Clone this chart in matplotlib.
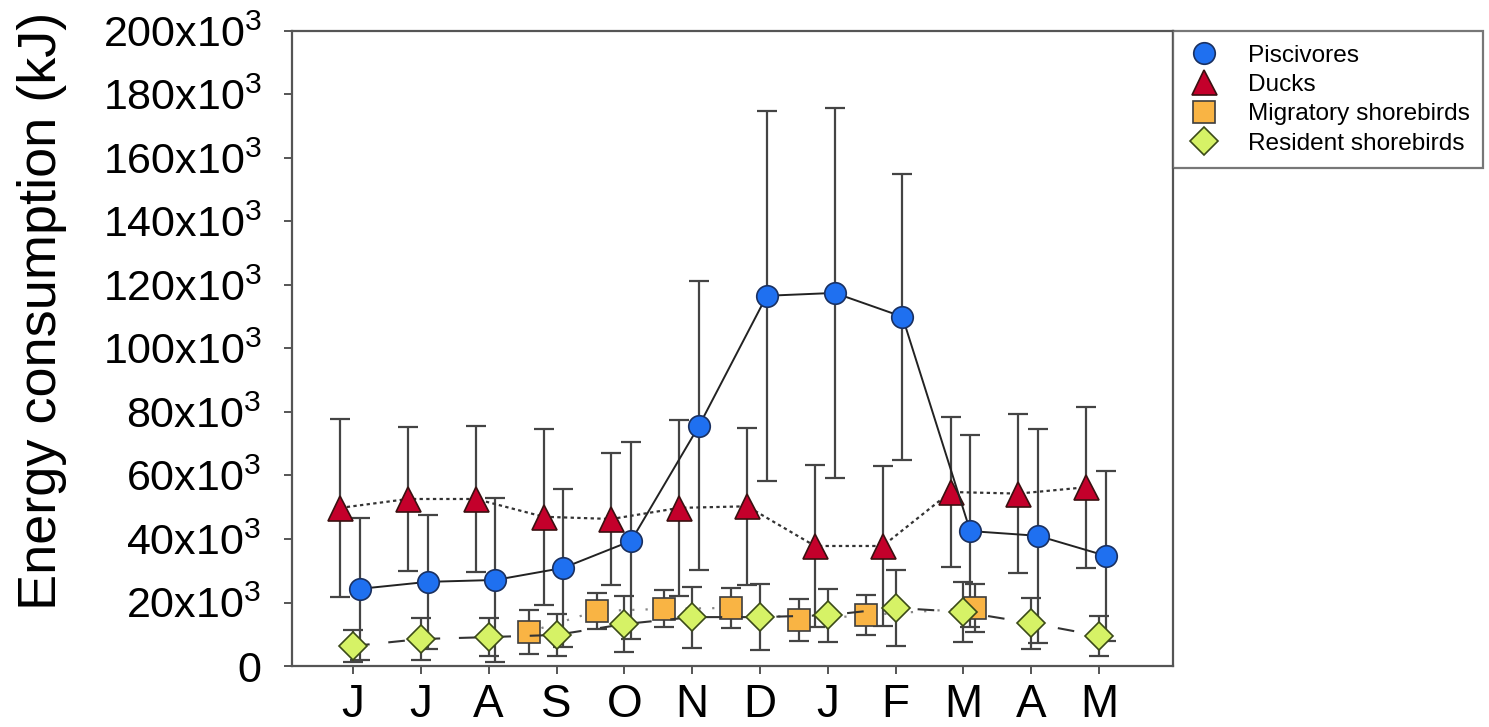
import numpy as np
import matplotlib
matplotlib.use('Agg')
import matplotlib.pyplot as plt
from matplotlib.lines import Line2D

plt.rcParams['font.family'] = ['Liberation Sans', 'DejaVu Sans']
plt.rcParams['mathtext.fontset'] = 'custom'
plt.rcParams['mathtext.rm'] = 'Liberation Sans'
plt.rcParams['mathtext.it'] = 'Liberation Sans'

# 月份
months = ['J', 'J', 'A', 'S', 'O', 'N', 'D', 'J', 'F', 'M', 'A', 'M']

# Piscivores
pisc_mean = [24.3, 26.5, 27.1, 30.9, 39.4, 75.6, 116.6, 117.5, 110.0, 42.5, 41.0, 34.7]
pisc_err = [22.3, 21.0, 25.8, 25.0, 31.0, 45.5, 58.2, 58.3, 45.0, 30.3, 33.7, 26.7]

# Ducks
duck_mean = [49.8, 52.6, 52.6, 47.0, 46.3, 49.8, 50.3, 37.8, 37.8, 54.8, 54.3, 56.3]
duck_err = [28.0, 22.7, 23.0, 27.7, 20.8, 27.7, 24.7, 25.5, 25.2, 23.6, 25.1, 25.3]

# Migratory shorebirds (Sep - Mar)
mig_idx = [3, 4, 5, 6, 7, 8, 9]
mig_shift = [-0.41, -0.41, -0.41, -0.42, -0.42, -0.44, 0.17]
mig_mean = [10.7, 17.3, 18.0, 18.3, 14.5, 16.0, 18.3]
mig_err = [6.9, 5.6, 5.8, 6.4, 6.7, 6.3, 7.5]

# Resident shorebirds
res_mean = [6.3, 8.5, 9.1, 9.8, 13.2, 15.4, 15.4, 16.0, 18.3, 17.0, 13.5, 9.5]
res_err = [5.0, 6.5, 6.0, 6.5, 8.8, 9.6, 10.5, 8.3, 12.0, 9.5, 8.0, 6.2]

x = np.arange(len(months))
sc = 1000.0

fig = plt.figure(figsize=(14.89, 7.27), dpi=100)
ax = fig.add_axes([0.1961, 0.0839, 0.5917, 0.8735])

ecol = '#444444'
ekw = dict(fmt='none', ecolor=ecol, elinewidth=1.6, capsize=7.5, capthick=1.6, zorder=1)

# 误差线
ax.errorbar(x - 0.19, np.array(duck_mean) * sc, yerr=np.array(duck_err) * sc, **ekw)
ax.errorbar(x + 0.10, np.array(pisc_mean) * sc, yerr=np.array(pisc_err) * sc, **ekw)
mx = np.array(mig_idx) + np.array(mig_shift)
ax.errorbar(mx, np.array(mig_mean) * sc, yerr=np.array(mig_err) * sc, **ekw)
ax.errorbar(x, np.array(res_mean) * sc, yerr=np.array(res_err) * sc, **ekw)

# 标记样式
st_pisc = dict(marker='o', ms=15.5, mfc='#1f70f0', mec='#1a3060', mew=1.2)
st_duck = dict(marker='^', ms=18, mfc='#c4002b', mec='#3a1010', mew=1.2)
st_mig = dict(marker='s', ms=16.5, mfc='#f9b444', mec='#3d3d3d', mew=1.2)
st_res = dict(marker='D', ms=14, mfc='#d6f266', mec='#3b4a18', mew=1.2)

# 连线 + 标记
ax.plot(x - 0.19, np.array(duck_mean) * sc, linestyle=(0, (1.5, 1.5)), color='#333333', lw=1.6,
        zorder=3, **st_duck)
ax.plot(x + 0.10, np.array(pisc_mean) * sc, linestyle='-', color='#222222', lw=1.4,
        zorder=4, **st_pisc)
ax.plot(mx, np.array(mig_mean) * sc, linestyle=(0, (1, 5)), color='#888888', lw=1.6,
        zorder=3, **st_mig)
ax.plot(x, np.array(res_mean) * sc, linestyle=(0, (8, 9)), color='#333333', lw=1.5,
        zorder=3, **st_res)

ax.set_xlim(-0.9, 12.09)
ax.set_ylim(0, 200000)
ax.set_xticks(x)
ax.set_xticklabels(months, fontsize=33)
yt = np.arange(0, 200001, 20000)
ax.set_yticks(yt)
ax.set_yticklabels(['0'] + [r'%dx10$^{3}$' % (v // 1000) for v in yt[1:]], fontsize=31)
ax.tick_params(axis='both', direction='out', length=6, width=1.4, color='#555555')
ax.tick_params(axis='x', pad=6)
ax.tick_params(axis='y', pad=16)
for s in ax.spines.values():
    s.set_color('#555555')
    s.set_linewidth(1.6)

ax.set_ylabel('Energy consumption (kJ)', fontsize=39)
ax.yaxis.set_label_coords(-0.255, 0.56)

handles = [Line2D([], [], linestyle='none', **st_pisc),
           Line2D([], [], linestyle='none', **st_duck),
           Line2D([], [], linestyle='none', **st_mig),
           Line2D([], [], linestyle='none', **st_res)]
labels = ['Piscivores', 'Ducks', 'Migratory shorebirds', 'Resident shorebirds']
leg = ax.legend(handles, labels, loc='upper left', bbox_to_anchor=(1.0, 1.0), borderaxespad=0,
                fontsize=17.6, frameon=True, fancybox=False, labelspacing=0.3,
                handlelength=1.4, handletextpad=1.1, borderpad=0.55)
leg.get_frame().set_edgecolor('#555555')
leg.get_frame().set_linewidth(1.6)

plt.savefig('out.png', dpi=100)
